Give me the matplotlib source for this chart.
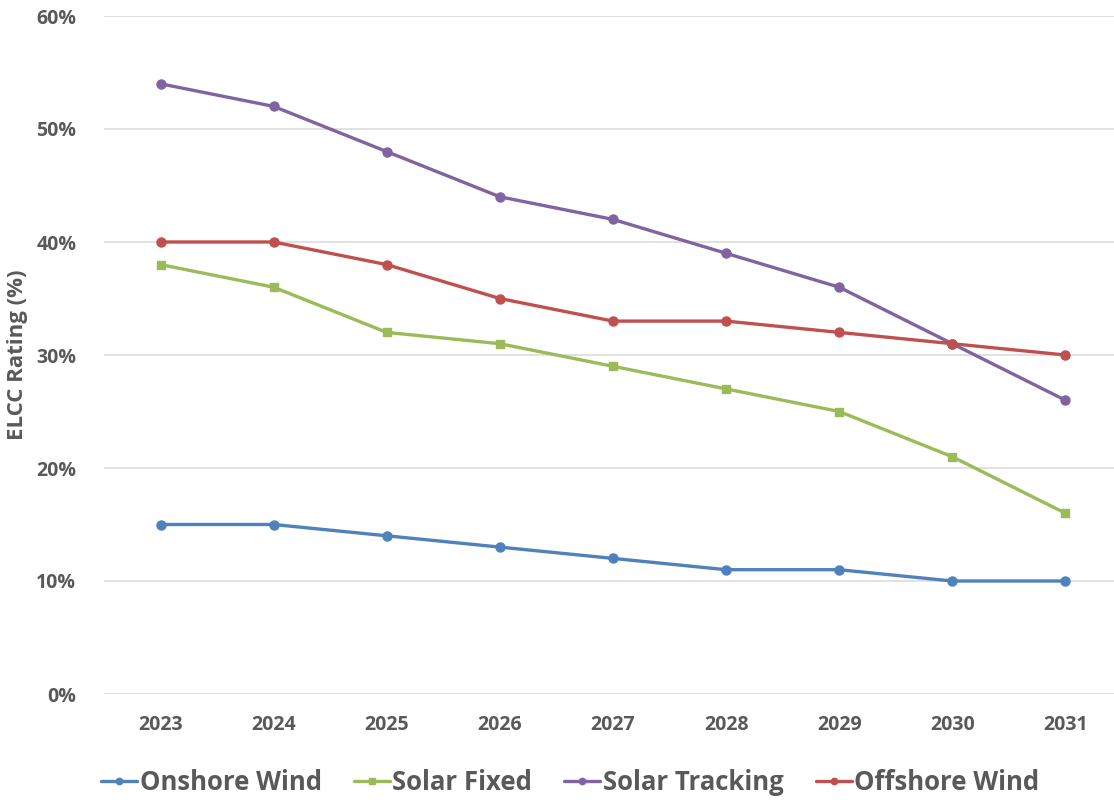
import matplotlib
matplotlib.use("Agg")
import matplotlib.pyplot as plt
from matplotlib.ticker import FuncFormatter, MultipleLocator

years = ["2023", "2024", "2025", "2026", "2027", "2028", "2029", "2030", "2031"]
onshore_wind = [15, 15, 14, 13, 12, 11, 11, 10, 10]
solar_fixed = [38, 36, 32, 31, 29, 27, 25, 21, 16]
solar_tracking = [54, 52, 48, 44, 42, 39, 36, 31, 26]
offshore_wind = [40, 40, 38, 35, 33, 33, 32, 31, 30]

series = [
    ("Onshore Wind", onshore_wind, "#4F81BD", "o"),
    ("Solar Fixed", solar_fixed, "#9BBB59", "s"),
    ("Solar Tracking", solar_tracking, "#8064A2", "o"),
    ("Offshore Wind", offshore_wind, "#C0504D", "o"),
]

plt.rcParams["font.family"] = ["Open Sans", "DejaVu Sans"]
text_color = "#595959"

fig = plt.figure(figsize=(11.14, 8.0), dpi=100)
ax = fig.add_axes([104 / 1114, 1 - 694 / 800, 1 - 104 / 1114, (694 - 16) / 800])

x = list(range(len(years)))
for name, vals, color, marker in series:
    ax.plot(x, vals, color=color, lw=2.4, marker=marker,
            markersize=6.5 if marker == "o" else 6, label=name,
            solid_capstyle="round")

ax.set_ylim(0, 60)
ax.set_xlim(-0.5, 8.43)
ax.yaxis.set_major_locator(MultipleLocator(10))
ax.yaxis.set_major_formatter(FuncFormatter(lambda v, p: f"{v:.0f}%"))
ax.set_xticks(x)
ax.set_xticklabels(years)
ax.grid(axis="y", color="#D9D9D9", lw=1.1)
ax.set_axisbelow(True)
for s in ax.spines.values():
    s.set_visible(False)
ax.tick_params(length=0, colors=text_color, labelsize=14)
ax.tick_params(axis="y", pad=20)
ax.tick_params(axis="x", pad=15)
for lab in ax.get_xticklabels() + ax.get_yticklabels():
    lab.set_fontweight("bold")

ax.set_ylabel("ELCC Rating (%)", fontsize=16, fontweight="bold",
              color=text_color, labelpad=6)

leg = fig.legend(loc="center", ncol=4, frameon=False,
                 bbox_to_anchor=(0.512, 1 - 782 / 800), handlelength=1.4,
                 handletextpad=0.1, columnspacing=1.25, markerscale=0.7,
                 prop={"weight": "bold", "size": 18.5})
for t in leg.get_texts():
    t.set_color(text_color)

fig.savefig("out.png", dpi=100)
